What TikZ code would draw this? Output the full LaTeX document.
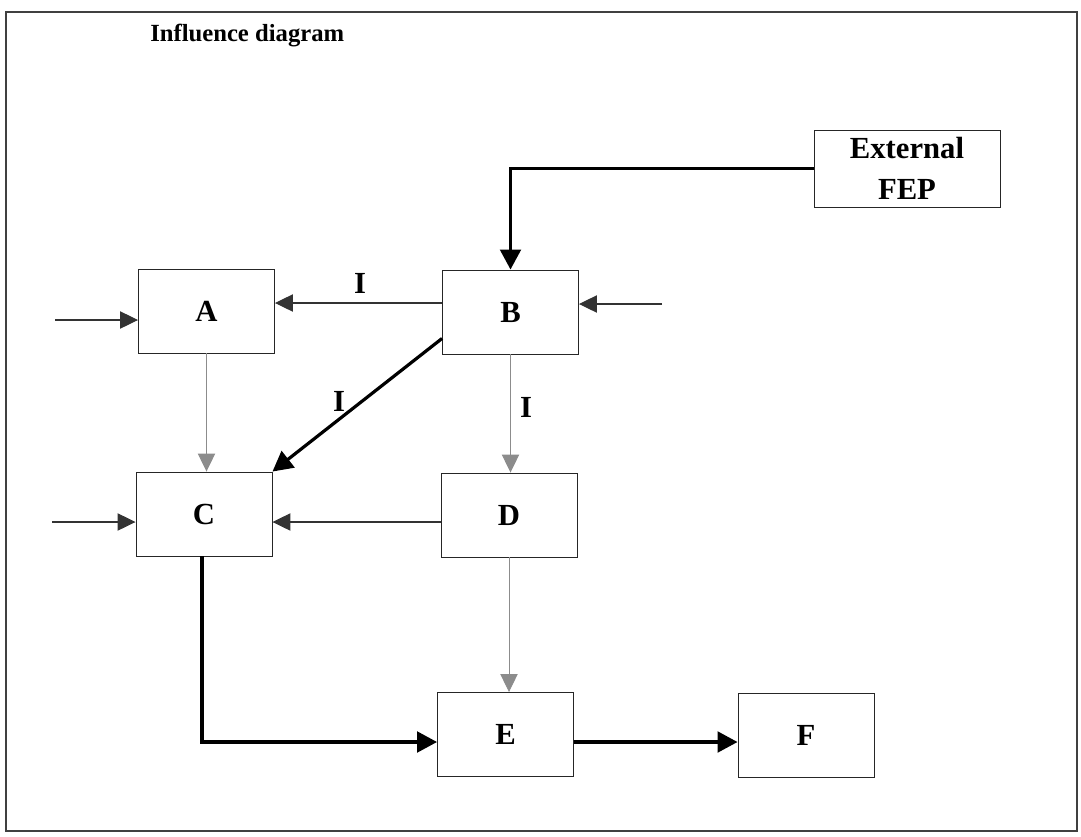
\documentclass[tikz,border=0pt]{standalone}
\usepackage{fontspec}
\setmainfont{Liberation Serif}
\usetikzlibrary{arrows.meta}
\begin{document}
\begin{tikzpicture}[x=0.75pt,y=-0.75pt,
  box/.style={draw=black!85, line width=0.7pt, minimum width=102pt, minimum height=63pt,
    font=\fontsize{23pt}{27pt}\selectfont\bfseries, inner sep=0pt},
  lbl/.style={font=\fontsize{23pt}{27pt}\selectfont\bfseries, inner sep=0pt},
  thin/.style={draw=black!80, line width=0.8pt, -{Triangle[length=13.5pt,width=13pt]}},
  faint/.style={draw=black!45, line width=0.7pt, -{Triangle[length=13.5pt,width=13pt]}},
  heavy/.style={draw=black, line width=2.4pt, -{Triangle[length=15pt,width=15.5pt]}}]
  \useasboundingbox (0,0) rectangle (1081,836);
  % outer frame
  \draw[black!75, line width=1pt] (6,12) rectangle (1077,831);
  % title
  \node[font=\fontsize{18.5pt}{22pt}\selectfont\bfseries, inner sep=0pt, anchor=west] (title) at (150,36) {Influence diagram};
  % boxes
  \node[box] (A) at (206.5,311) {A};
  \node[box] (B) at (510.5,312) {B};
  \node[box] (C) at (204,514) {C};
  \node[box] (D) at (509,515) {D};
  \node[box] (E) at (505.5,734.5) {E};
  \node[box] (F) at (806,735.5) {F};
  \node[box, minimum width=139.5pt, minimum height=57.75pt, align=center,
        font=\fontsize{23pt}{31pt}\selectfont\bfseries] (X) at (907,168.5) {External\\FEP};
  % helper coordinates
  \coordinate (yba) at (0,303);
  \coordinate (ydc) at (0,522);
  \coordinate (yef) at (0,742);
  \coordinate (inA) at (55,320);
  \coordinate (inB) at (662,304);
  \coordinate (inC) at (52,522);
  % connectors
  \draw[heavy] (X.west) -| (B.north);
  \draw[thin] (inB) -- (B.east |- inB);
  \draw[thin] (B.west |- yba) -- (A.east |- yba);
  \node[lbl] (i1) at (360,283) {I};
  \draw[thin] (inA) -- (A.west |- inA);
  \draw[heavy] ([yshift=12pt]B.south west) -- (C.north east);
  \node[lbl] (i2) at (339,401) {I};
  \draw[faint] (A.south) -- (A.south |- C.north);
  \draw[faint] (B.south) -- (B.south |- D.north);
  \node[lbl] (i3) at (526,407) {I};
  \draw[thin] (inC) -- (C.west |- inC);
  \draw[thin] (D.west |- ydc) -- (C.east |- ydc);
  \draw[heavy] ([xshift=-1.5pt]C.south) |- (E.west |- yef);
  \draw[faint] (D.south) -- (D.south |- E.north);
  \draw[heavy] (E.east |- yef) -- (F.west |- yef);
\end{tikzpicture}
\end{document}
